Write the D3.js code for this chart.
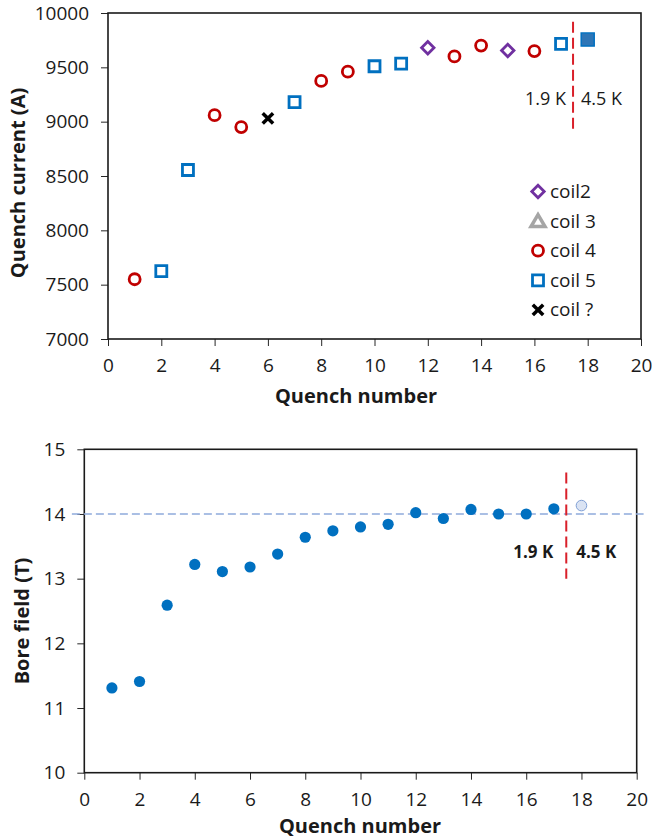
<!DOCTYPE html>
<html>
<head>
<meta charset="utf-8">
<script src="https://cdn.jsdelivr.net/npm/d3@7"></script>
<style>
  html, body { margin: 0; padding: 0; background: #fff; }
  svg text { font-family: "Open Sans", "DejaVu Sans", sans-serif; fill: #1a1a1a; }
</style>
</head>
<body>
<svg id="chart" width="652" height="840"></svg>
<script>
// ── Data ─────────────────────────────────────────────────────────────────────
const QUENCH = [1, 2, 3, 4, 5, 6, 7, 8, 9, 10, 11, 12, 13, 14, 15, 16, 17, 18];
const CURRENT = [7550, 7625, 8555, 9060, 8950, 9030, 9180, 9375, 9460, 9510, 9535,
                 9680, 9600, 9700, 9655, 9650, 9715, 9755];
const COIL = ['coil 4', 'coil 5', 'coil 5', 'coil 4', 'coil 4', 'coil ?', 'coil 5',
              'coil 4', 'coil 4', 'coil 5', 'coil 5', 'coil2', 'coil 4', 'coil 4',
              'coil2', 'coil 4', 'coil 5', 'coil 5'];
const BORE_FIELD = [11.31, 11.41, 12.59, 13.22, 13.11, 13.18, 13.38, 13.64, 13.74,
                    13.80, 13.84, 14.02, 13.93, 14.07, 14.00, 14.00, 14.08, 14.13];
const TEMP = QUENCH.map(q => q <= 17 ? '1.9 K' : '4.5 K');

const LEGEND = ['coil2', 'coil 3', 'coil 4', 'coil 5', 'coil ?'];
const X_TICKS = [0, 2, 4, 6, 8, 10, 12, 14, 16, 18, 20];
const I_TICKS = [7000, 7500, 8000, 8500, 9000, 9500, 10000];
const B_TICKS = [10, 11, 12, 13, 14, 15];

const T_SPLIT = 17.45;        // 1.9 K | 4.5 K boundary
const FIELD_REF = 14;         // horizontal reference line

const COIL_COLOR = {
  'coil2': '#7030A0', 'coil 3': '#A5A5A5', 'coil 4': '#C00000',
  'coil 5': '#0070C0', 'coil ?': '#000000',
};

// ── Marker paths ─────────────────────────────────────────────────────────────
function markerPath(coil) {
  switch (coil) {
    case 'coil2':  { const h = 6.2; return `M0,${-h}L${h},0L0,${h}L${-h},0Z`; }
    case 'coil 3': return `M0,-6.5L7,5.5L-7,5.5Z`;
    case 'coil 4': return d3.symbol(d3.symbolCircle, Math.PI * 5.5 * 5.5)();
    case 'coil 5': { const s = 5.5; return `M${-s},${-s}H${s}V${s}H${-s}Z`; }
    default:       { const s = 5.2; return `M${-s},${-s}L${s},${s}M${s},${-s}L${-s},${s}`; }
  }
}

const svg = d3.select('#chart');
const fmt = d3.format('d');

function styleAxis(g) {
  g.select('.domain').remove();
  g.selectAll('.tick line').attr('stroke', '#262626').attr('stroke-width', 1);
  g.selectAll('.tick text').style('font-size', '19px').attr('fill', '#1a1a1a');
}

function frame(x, y) {
  const [x0, x1] = x.range(), [y0, y1] = y.range();
  return svg.append('rect')
    .attr('x', x0).attr('y', y1).attr('width', x1 - x0).attr('height', y0 - y1)
    .attr('fill', 'none').attr('stroke', '#1a1a1a').attr('stroke-width', 1.6);
}

// ── Top panel: quench current ────────────────────────────────────────────────
const x1 = d3.scaleLinear().domain([0, 20]).range([108, 641]);
const y1 = d3.scaleLinear().domain([7000, 10000]).range([339, 13]);

svg.append('g').attr('transform', `translate(0,${y1.range()[0]})`)
  .call(d3.axisBottom(x1).tickValues(X_TICKS).tickFormat(fmt).tickSize(7).tickPadding(13))
  .call(styleAxis);
svg.append('g').attr('transform', `translate(${x1.range()[0]},0)`)
  .call(d3.axisLeft(y1).tickValues(I_TICKS).tickFormat(fmt).tickSize(7).tickPadding(12))
  .call(styleAxis);
frame(x1, y1);

svg.append('line')
  .attr('x1', x1(T_SPLIT)).attr('x2', x1(T_SPLIT))
  .attr('y1', y1(9920)).attr('y2', y1(8930))
  .attr('stroke', '#D9202A').attr('stroke-width', 2).attr('stroke-dasharray', '11,5');

svg.append('text').attr('x', x1(T_SPLIT) - 7).attr('y', 105)
  .attr('text-anchor', 'end').style('font-size', '18px').text('1.9 K');
svg.append('text').attr('x', x1(T_SPLIT) + 8).attr('y', 105)
  .style('font-size', '18px').text('4.5 K');

const pts = QUENCH.map((q, i) => ({ q, v: CURRENT[i], coil: COIL[i], temp: TEMP[i] }));
svg.append('g').selectAll('path').data(pts).join('path')
  .attr('transform', d => `translate(${x1(d.q)},${y1(d.v)})`)
  .attr('d', d => d.temp === '4.5 K' ? `M-6.5,-6.5H6.5V6.5H-6.5Z` : markerPath(d.coil))
  .attr('fill', d => d.temp === '4.5 K' ? '#2E75B6' : (d.coil === 'coil ?' ? 'none' : '#fff'))
  .attr('stroke', d => COIL_COLOR[d.coil])
  .attr('stroke-width', d => d.temp === '4.5 K' ? 1.5 : (d.coil === 'coil ?' ? 3.5 : 2.8));

const legend = svg.append('g').selectAll('g').data(LEGEND).join('g')
  .attr('transform', (d, i) => `translate(538,${191.5 + i * 29.6})`);
legend.append('path')
  .attr('d', d => markerPath(d))
  .attr('fill', d => d === 'coil ?' ? 'none' : '#fff')
  .attr('stroke', d => COIL_COLOR[d])
  .attr('stroke-width', d => d === 'coil 3' ? 3.5 : (d === 'coil ?' ? 3.5 : 2.8));
legend.append('text').attr('x', 12).attr('y', 6.5)
  .style('font-size', '19px').text(d => d);

svg.append('text').attr('x', 356).attr('y', 403).attr('text-anchor', 'middle')
  .style('font-size', '20px').style('font-weight', '700').text('Quench number');
svg.append('text').attr('transform', 'translate(25,183) rotate(-90)')
  .attr('text-anchor', 'middle')
  .style('font-size', '20px').style('font-weight', '700').text('Quench current (A)');

// ── Bottom panel: bore field ─────────────────────────────────────────────────
const x2 = d3.scaleLinear().domain([0, 20]).range([84.3, 636.7]);
const y2 = d3.scaleLinear().domain([10, 15]).range([772.7, 449.3]);

svg.append('g').attr('transform', `translate(0,${y2.range()[0]})`)
  .call(d3.axisBottom(x2).tickValues(X_TICKS).tickFormat(fmt).tickSize(7).tickPadding(13))
  .call(styleAxis);
svg.append('g').attr('transform', `translate(${x2.range()[0]},0)`)
  .call(d3.axisLeft(y2).tickValues(B_TICKS).tickFormat(fmt).tickSize(7).tickPadding(12))
  .call(styleAxis);
frame(x2, y2);

svg.append('line')
  .attr('x1', x2(-0.45)).attr('x2', x2(20.25))
  .attr('y1', y2(FIELD_REF)).attr('y2', y2(FIELD_REF))
  .attr('stroke', '#8FAADC').attr('stroke-width', 1.3).attr('stroke-dasharray', '8,4');

svg.append('line')
  .attr('x1', x2(T_SPLIT)).attr('x2', x2(T_SPLIT))
  .attr('y1', y2(14.64)).attr('y2', y2(13.0))
  .attr('stroke', '#D9202A').attr('stroke-width', 2).attr('stroke-dasharray', '11,5');

svg.append('text').attr('x', x2(T_SPLIT) - 13).attr('y', 558)
  .attr('text-anchor', 'end').style('font-size', '17px').style('font-weight', '700').text('1.9 K');
svg.append('text').attr('x', x2(T_SPLIT) + 10).attr('y', 558)
  .style('font-size', '17px').style('font-weight', '700').text('4.5 K');

const bpts = QUENCH.map((q, i) => ({ q, v: BORE_FIELD[i], temp: TEMP[i] }));
svg.append('g').selectAll('circle').data(bpts).join('circle')
  .attr('cx', d => x2(d.q)).attr('cy', d => y2(d.v))
  .attr('r', d => d.temp === '4.5 K' ? 5.3 : 5.6)
  .attr('fill', d => d.temp === '4.5 K' ? '#DAE3F3' : '#0070C0')
  .attr('stroke', d => d.temp === '4.5 K' ? '#7F9FD5' : 'none')
  .attr('stroke-width', 1);

svg.append('text').attr('x', 360).attr('y', 833).attr('text-anchor', 'middle')
  .style('font-size', '20px').style('font-weight', '700').text('Quench number');
svg.append('text').attr('transform', 'translate(29,621) rotate(-90)')
  .attr('text-anchor', 'middle')
  .style('font-size', '20px').style('font-weight', '700').text('Bore field (T)');
</script>
</body>
</html>
